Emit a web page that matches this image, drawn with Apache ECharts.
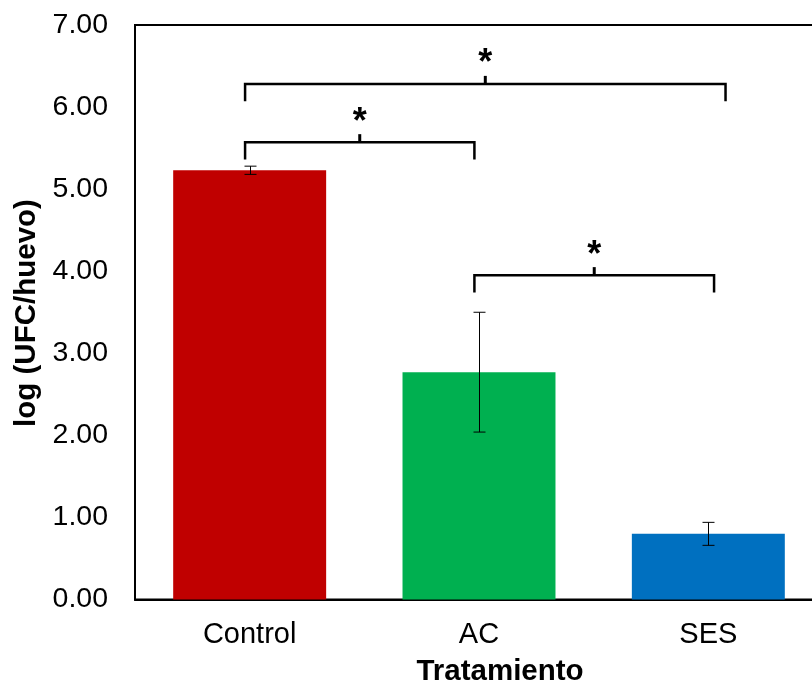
<!DOCTYPE html>
<html>
<head>
<meta charset="utf-8">
<script src="https://cdn.jsdelivr.net/npm/echarts@6/dist/echarts.min.js"></script>
<style>
  html, body { margin: 0; padding: 0; background: #fff; }
  #chart { width: 812px; height: 683px; }
</style>
</head>
<body>
<div id="chart"></div>
<script>
// Bacterial load per egg by treatment (mean ± error)
const categories = ['Control', 'AC', 'SES'];
const means = [5.23, 2.77, 0.80];
const errors = [0.05, 0.73, 0.14];
const barColors = ['#C00000', '#00B050', '#0070C0'];
const yTicks = [0, 1, 2, 3, 4, 5, 6, 7];

// Significance brackets: start / end in category units, bracket height in log units
const bracketFrom = [-0.02, -0.02, 0.98];
const bracketTo = [0.98, 2.075, 2.025];
const bracketLevel = [5.57, 6.28, 3.95];
const bracketMark = ['*', '*', '*'];

const FONT = '"Liberation Sans", Arial, sans-serif';

const chart = echarts.init(document.getElementById('chart'));

const barData = means.map((v, i) => ({ value: v, itemStyle: { color: barColors[i] } }));
const errData = means.map((v, i) => [i, v - errors[i], v + errors[i]]);
const bracketData = bracketLevel.map((lv, i) => [bracketFrom[i], bracketTo[i], lv, i]);

chart.setOption({
  animation: false,
  backgroundColor: '#fff',
  grid: {
    left: 135, top: 25, height: 574.5, width: 688,
    outerBoundsMode: 'none',
    containLabel: false,
    show: true, borderColor: '#000', borderWidth: 2, backgroundColor: 'transparent'
  },
  xAxis: [
    {
      type: 'category',
      data: categories,
      axisLine: { show: true, lineStyle: { color: '#000', width: 2 } },
      axisTick: { show: false },
      axisLabel: { color: '#000', fontSize: 29, fontFamily: FONT, margin: 21 }
    },
    { type: 'value', min: -0.5, max: 2.5, show: false }
  ],
  yAxis: {
    type: 'value',
    min: yTicks[0], max: yTicks[yTicks.length - 1], interval: 1,
    axisLine: { show: true, onZero: false, lineStyle: { color: '#000', width: 2 } },
    axisTick: { show: false },
    splitLine: { show: false },
    axisLabel: {
      color: '#000', fontSize: 28.5, fontFamily: FONT, margin: 27,
      formatter: v => v.toFixed(2)
    }
  },
  graphic: [
    {
      type: 'text', x: 27, y: 313, rotation: Math.PI / 2,
      style: {
        text: 'log (UFC/huevo)', fill: '#000', fontSize: 29.5, fontWeight: 'bold',
        fontFamily: FONT, align: 'center', verticalAlign: 'middle'
      }
    },
    {
      type: 'text', x: 500, y: 672,
      style: {
        text: 'Tratamiento', fill: '#000', fontSize: 29.5, fontWeight: 'bold',
        fontFamily: FONT, align: 'center', verticalAlign: 'middle'
      }
    }
  ],
  series: [
    {
      type: 'bar',
      data: barData,
      barCategoryGap: '33.3%',
      xAxisIndex: 0
    },
    {
      type: 'custom',
      xAxisIndex: 0,
      data: errData,
      z: 5,
      renderItem: (params, api) => {
        const lo = api.coord([api.value(0), api.value(1)]);
        const hi = api.coord([api.value(0), api.value(2)]);
        const x = Math.round(lo[0]) + 0.5;
        const cap = 6;
        const st = { stroke: '#000', lineWidth: 1 };
        return {
          type: 'group',
          children: [
            { type: 'line', shape: { x1: x, y1: hi[1], x2: x, y2: lo[1] }, style: st },
            { type: 'line', shape: { x1: x - cap, y1: hi[1], x2: x + cap, y2: hi[1] }, style: st },
            { type: 'line', shape: { x1: x - cap, y1: lo[1], x2: x + cap, y2: lo[1] }, style: st }
          ]
        };
      }
    },
    {
      type: 'custom',
      xAxisIndex: 1,
      data: bracketData,
      z: 6,
      renderItem: (params, api) => {
        const from = api.value(0), to = api.value(1), lv = api.value(2);
        const i = api.value(3);
        const pL = api.coord([from, lv]);
        const pR = api.coord([to, lv]);
        const pLd = api.coord([from, lv - 0.21]);
        const pRd = api.coord([to, lv - 0.21]);
        const mid = (from + to) / 2;
        const pM = api.coord([mid, lv]);
        const pMu = api.coord([mid, lv + 0.1]);
        const pS = api.coord([mid, lv + 0.24]);
        return {
          type: 'group',
          children: [
            {
              type: 'polyline',
              shape: { points: [pLd, pL, pR, pRd] },
              style: { stroke: '#000', lineWidth: 2.5, fill: null }
            },
            {
              type: 'line',
              shape: { x1: pM[0], y1: pM[1], x2: pMu[0], y2: pMu[1] },
              style: { stroke: '#000', lineWidth: 3 }
            },
            {
              type: 'text',
              x: pS[0], y: pS[1],
              style: {
                text: bracketMark[i], fill: '#000', fontSize: 36, fontWeight: 'bold',
                fontFamily: FONT, align: 'center', verticalAlign: 'middle'
              }
            }
          ]
        };
      }
    }
  ]
});
</script>
</body>
</html>
